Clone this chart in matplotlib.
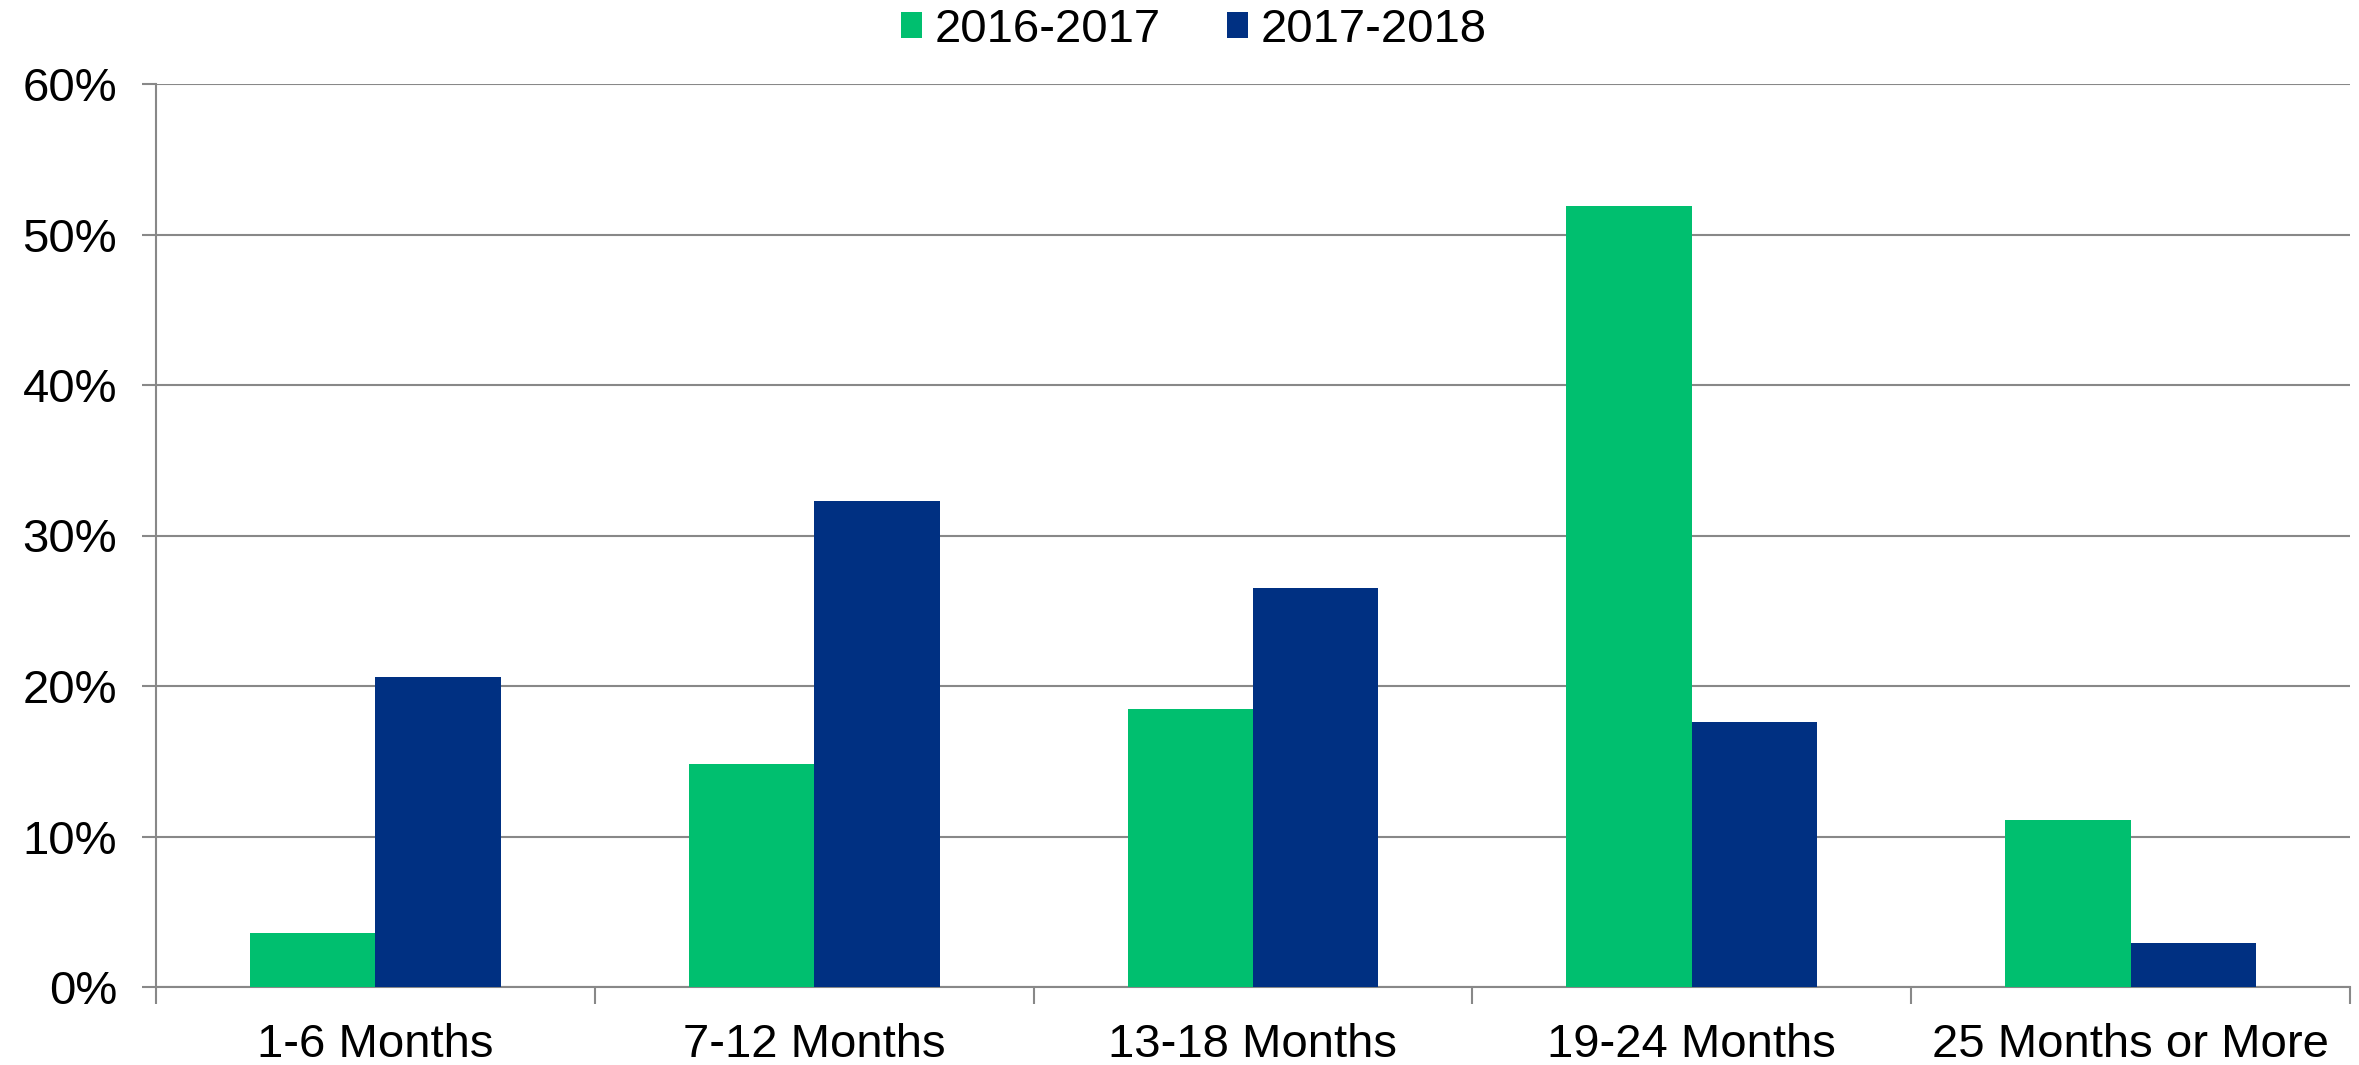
import numpy as np
import matplotlib
matplotlib.use("Agg")
import matplotlib.pyplot as plt
from matplotlib.ticker import PercentFormatter

plt.rcParams['font.family'] = ['Liberation Sans', 'DejaVu Sans']

# data
categories = ["1-6 Months", "7-12 Months", "13-18 Months", "19-24 Months", "25 Months or More"]
series_names = ["2016-2017", "2017-2018"]
vals_1617 = [3.6, 14.8, 18.5, 51.9, 11.1]
vals_1718 = [20.6, 32.3, 26.5, 17.6, 2.9]
colors = ["#00BF6F", "#003082"]
grid_col = "#888888"

fig = plt.figure(figsize=(23.59, 10.65), dpi=100)
ax = fig.add_axes([156/2359, 1-987/1065, (2350-156)/2359, (987-84)/1065])

x = np.arange(len(categories))
w = 0.286
ax.bar(x - w/2, vals_1617, w, color=colors[0], label=series_names[0], zorder=3)
ax.bar(x + w/2, vals_1718, w, color=colors[1], label=series_names[1], zorder=3)

ax.set_xlim(-0.5, len(categories) - 0.5)
ax.set_ylim(0, 60)
ax.set_yticks(np.arange(0, 61, 10))
ax.yaxis.set_major_formatter(PercentFormatter(decimals=0))
ax.yaxis.grid(True, color=grid_col, linewidth=1.5, zorder=0)

# category labels centred, tick marks on the boundaries
ax.set_xticks(x)
ax.set_xticklabels(categories)
ax.tick_params(axis='x', length=0, pad=26, labelsize=34)
ax.set_xticks(np.arange(-0.5, len(categories)), minor=True)
ax.tick_params(axis='x', which='minor', length=12, width=1.5, color=grid_col, direction='out')
ax.tick_params(axis='y', length=10, width=1.5, color=grid_col, direction='out', labelsize=34, pad=18)

for s in ['top', 'right']:
    ax.spines[s].set_visible(False)
ax.spines['left'].set_color(grid_col)
ax.spines['left'].set_linewidth(1.5)
ax.spines['bottom'].set_color(grid_col)
ax.spines['bottom'].set_linewidth(1.5)

fig.legend(loc='center', bbox_to_anchor=(0.506, 0.972), ncol=2, frameon=False,
           fontsize=34, handlelength=0.45, handleheight=0.45, handletextpad=0.26,
           columnspacing=1.4)

fig.savefig("out.png", dpi=100)
